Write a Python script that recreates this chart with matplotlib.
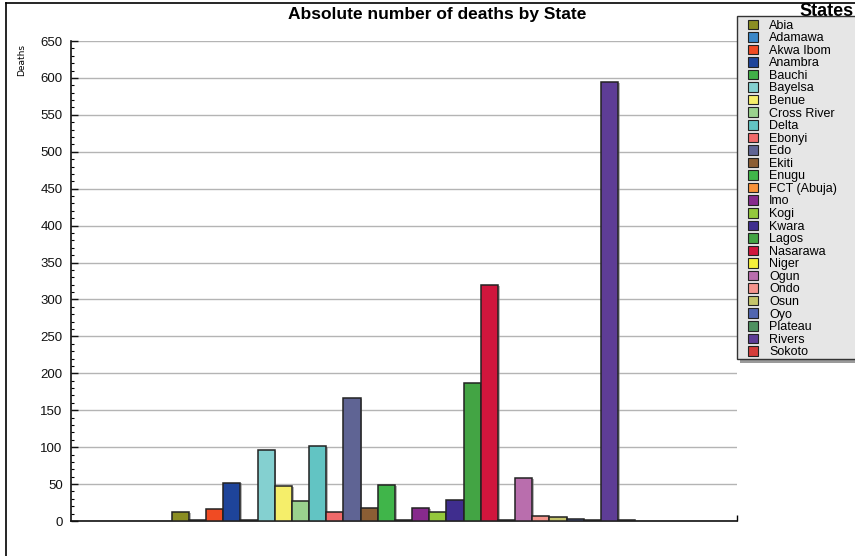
import matplotlib.pyplot as plt
import matplotlib.patheffects as pe
from matplotlib.lines import Line2D
from matplotlib.patches import Patch, Rectangle
import numpy as np

states = ['Abia', 'Adamawa', 'Akwa Ibom', 'Anambra', 'Bauchi', 'Bayelsa',
          'Benue', 'Cross River', 'Delta', 'Ebonyi', 'Edo', 'Ekiti', 'Enugu',
          'FCT (Abuja)', 'Imo', 'Kogi', 'Kwara', 'Lagos', 'Nasarawa', 'Niger',
          'Ogun', 'Ondo', 'Osun', 'Oyo', 'Plateau', 'Rivers', 'Sokoto']
deaths = [12, 2, 16, 52, 2, 96, 47, 27, 102, 12, 167, 17, 49, 1, 17, 12,
          28, 187, 319, 1, 58, 7, 6, 3, 1, 594, 1]
colors = ['#8B8E23', '#3A87C8', '#F04B23', '#1E449A', '#41B048', '#84D0D0',
          '#F5EE6A', '#9AD18E', '#62C4C3', '#F06A6A', '#5F6494', '#8B5E34',
          '#40B54A', '#F7923A', '#872A8C', '#94C83C', '#3F2D8E', '#43A444',
          '#D0163D', '#F5EF3A', '#B96EAD', '#F4948C', '#C4C46A', '#5166B0',
          '#4E9160', '#5E3D96', '#D43D3A']

plt.rcParams['font.family'] = ['Liberation Sans', 'DejaVu Sans']

W, H = 855, 556
fig = plt.figure(figsize=(W / 100, H / 100), dpi=100)
ax = fig.add_axes([71 / W, 1 - 521 / H, (737 - 71) / W, (521 - 41) / H])

n = len(states)
x = np.arange(n)
bars = ax.bar(x, deaths, width=1.0, color=colors, edgecolor='#222222',
              linewidth=1.1, zorder=3)
for b in bars:
    b.set_path_effects([pe.SimplePatchShadow(offset=(1.2, -0.6), shadow_rgbFace='#888888', alpha=0.6),
                        pe.Normal()])

bw = (635.3 - 171.7) / n
ax.set_xlim(-0.5 - (171.7 - 71) / bw, n - 0.5 + (737 - 635.3) / bw)
ax.set_ylim(0, 650)

ax.set_yticks(np.arange(0, 651, 50))
ax.set_yticks(np.arange(0, 651, 10), minor=True)
ax.tick_params(axis='y', which='major', direction='in', length=5, width=1,
               labelsize=9.5, pad=6, colors='#111111')
ax.tick_params(axis='y', which='minor', direction='in', length=2.5, width=0.8)
ax.set_xticks([ax.get_xlim()[1]])
ax.set_xticklabels([])
ax.tick_params(axis='x', direction='in', length=4, width=1)
ax.yaxis.grid(True, color='#B4B4B4', linewidth=1, zorder=0)
ax.set_axisbelow(True)
for s in ['top', 'right']:
    ax.spines[s].set_visible(False)
for s in ['left', 'bottom']:
    ax.spines[s].set_linewidth(1.2)
    ax.spines[s].set_color('#111111')

fig.text(437 / W, 1 - 14 / H, 'Absolute number of deaths by State',
         ha='center', va='center', fontsize=12.5, fontweight='bold')
fig.text(22 / W, 1 - 60 / H, 'Deaths', rotation=90, ha='center', va='center',
         fontsize=6.5, family=['Liberation Sans Narrow', 'DejaVu Sans'])

# legend box with shadow
fig.add_artist(Rectangle((740 / W, 1 - 363 / H), 200 / W, (363 - 19) / H,
                         transform=fig.transFigure, facecolor='#9A9A9A',
                         edgecolor='none', zorder=4))
fig.add_artist(Rectangle((737 / W, 1 - 359 / H), 200 / W, (359 - 16) / H,
                         transform=fig.transFigure, facecolor='#E6E6E6',
                         edgecolor='#333333', linewidth=1, zorder=5))
handles = [Patch(facecolor=c, edgecolor='#222222', linewidth=0.8) for c in colors]
leg = fig.legend(handles, states, loc='upper left',
                 bbox_to_anchor=(748 / W, 1 - 19.5 / H), fontsize=9,
                 handlelength=0.8, handleheight=0.8, handletextpad=0.88,
                 labelspacing=0.035, borderpad=0, frameon=False,
                 borderaxespad=0)
leg.set_zorder(6)
fig.text(854 / W, 1 - 11 / H, 'States', ha='right', va='center',
         fontsize=13, fontweight='bold')

# outer frame lines
fig.add_artist(Line2D([6 / W, 1], [1 - 3 / H, 1 - 3 / H], color='black', lw=1.2))
fig.add_artist(Line2D([6 / W, 6 / W], [0, 1 - 3 / H], color='black', lw=1.2))

fig.savefig('out.png', dpi=100)
